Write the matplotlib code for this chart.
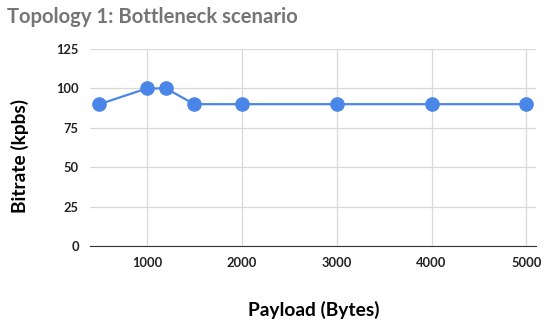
import matplotlib.pyplot as plt

payload = [500, 1000, 1200, 1500, 2000, 3000, 4000, 5000]
bitrate = [90, 100, 100, 90, 90, 90, 90, 90]
x_ticks = [1000, 2000, 3000, 4000, 5000]
y_ticks = [0, 25, 50, 75, 100, 125]

plt.rcParams["font.family"] = ["Lato", "DejaVu Sans"]

fig = plt.figure(figsize=(5.5, 3.29), dpi=100)
ax = fig.add_axes([0.1636, 0.2523, 0.8109, 0.5987])

ax.plot(payload, bitrate, color="#4a86e8", linewidth=1.6, marker="o",
        markersize=9.5, zorder=3)

ax.set_xlim(400, 5100)
ax.set_ylim(0, 125)
ax.set_xticks(x_ticks)
ax.set_yticks(y_ticks)
ax.grid(True, color="#d9d9d9", linewidth=0.9)
ax.set_axisbelow(True)

for s in ["top", "right", "left"]:
    ax.spines[s].set_visible(False)
ax.spines["bottom"].set_color("#333333")
ax.tick_params(length=0, labelsize=9.3, colors="#222222", pad=8)
for lbl in ax.get_xticklabels() + ax.get_yticklabels():
    lbl.set_fontweight("bold")

fig.text(0.012, 0.948, "Topology 1: Bottleneck scenario", fontsize=14.6,
         fontweight="bold", color="#757575", ha="left", va="center")
fig.text(0.571, 0.058, "Payload (Bytes)", fontsize=13.8, fontweight="bold",
         ha="center", va="center")
fig.text(0.037, 0.526, "Bitrate (kpbs)", fontsize=13.8, fontweight="bold",
         ha="center", va="center", rotation=90)

fig.savefig("out.png", dpi=100)
